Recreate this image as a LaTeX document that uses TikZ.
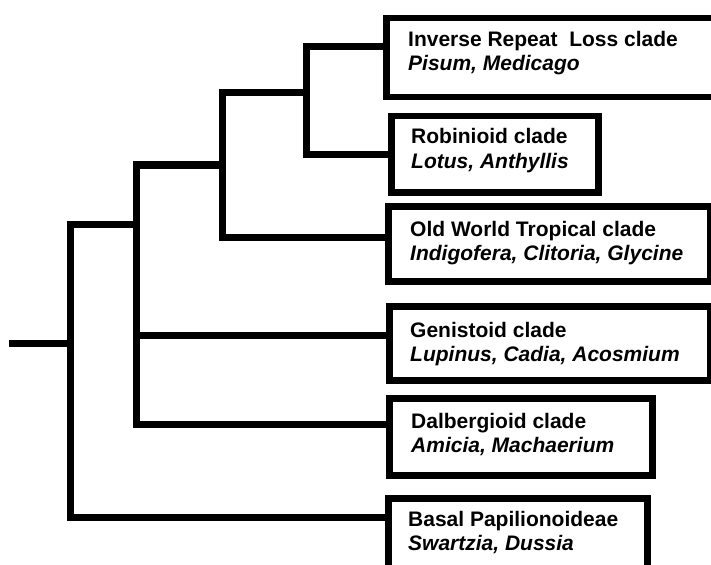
\documentclass[tikz,border=0pt]{standalone}
\usepackage{fontspec}
\setmainfont{Liberation Sans}
\begin{document}
\begin{tikzpicture}[x=1pt, y=-1pt,
  clade/.style={draw, line width=6.5pt, rectangle, inner sep=0pt, anchor=north west},
  branch/.style={line width=7pt, line join=miter, line cap=butt},
  head/.style={anchor=base west, inner sep=0pt, font=\fontsize{21}{24}\selectfont\bfseries},
  taxa/.style={anchor=base west, inner sep=0pt, font=\fontsize{21}{24}\selectfont\bfseries\itshape}]
\useasboundingbox (0,0) rectangle (711,564);
\clip (0,0) rectangle (711,564);

% clade boxes
\node[clade, minimum width=337pt, minimum height=79pt] (irl) at (383,15) {};
\node[clade, minimum width=207pt, minimum height=76pt] (rob) at (388,113) {};
\node[clade, minimum width=322pt, minimum height=75pt] (owt) at (385,203) {};
\node[clade, minimum width=321pt, minimum height=74pt] (gen) at (386,303) {};
\node[clade, minimum width=263pt, minimum height=77pt] (dal) at (386,395) {};
\node[clade, minimum width=259pt, minimum height=85pt] (bas) at (385,495) {};

% labels
\node[head] (irlA) at (408,47) {Inverse Repeat\ \ Loss clade};
\node[taxa] (irlB) at (408,71) {Pisum, Medicago};
\node[head] (robA) at (411,144) {Robinioid clade};
\node[taxa] (robB) at (411,168) {Lotus, Anthyllis};
\node[head] (owtA) at (410,236) {Old World Tropical clade};
\node[taxa] (owtB) at (410,260) {Indigofera, Clitoria, Glycine};
\node[head] (genA) at (410,337) {Genistoid clade};
\node[taxa] (genB) at (410,361) {Lupinus, Cadia, Acosmium};
\node[head] (dalA) at (411,428) {Dalbergioid clade};
\node[taxa] (dalB) at (411,452) {Amicia, Machaerium};
\node[head] (basA) at (408,526) {Basal Papilionoideae};
\node[taxa] (basB) at (408,550) {Swartzia, Dussia};

% internal nodes of the tree
\coordinate (root) at (9,343);
\coordinate (n1) at (70,343);
\coordinate (n2) at (136,224);
\coordinate (n3) at (222,165);
\coordinate (n4) at (306,93);

% branches
\draw[branch] (root) -- (n1);
\draw[branch] (irl.west |- 0,47) -| (n4) |- (rob.west |- 0,155);
\draw[branch] (n4) -| (n3) |- (owt.west |- 0,237);
\draw[branch] (n3) -| (n2);
\draw[branch] (n2 |- n3) -- (n2 |- 0,424) -- (dal.west |- 0,424);
\draw[branch] (n2 |- 0,335) -- (gen.west |- 0,335);
\draw[branch] (n2) -| (n1);
\draw[branch] (n1 |- n2) -- (n1 |- 0,517) -- (bas.west |- 0,517);
\end{tikzpicture}
\end{document}
